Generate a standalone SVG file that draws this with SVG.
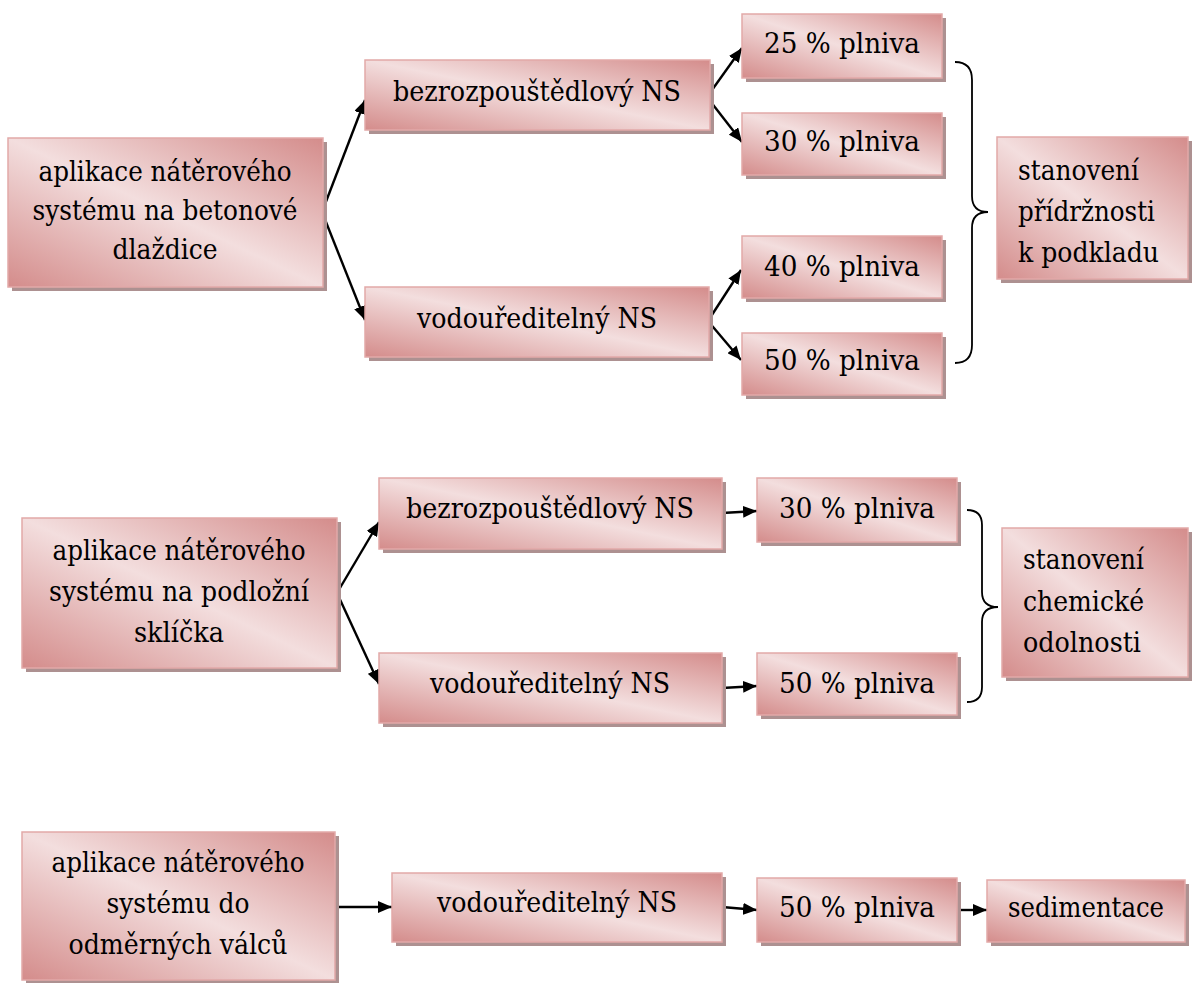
<svg xmlns="http://www.w3.org/2000/svg" width="1192" height="983" viewBox="0 0 1192 983">
<defs>
<linearGradient id="g" x1="1" y1="0" x2="0" y2="1">
<stop offset="0" stop-color="#d48c8b"/>
<stop offset="0.5" stop-color="#f3dede"/>
<stop offset="1" stop-color="#d48c8b"/>
</linearGradient>
<marker id="ah" viewBox="0 0 14 12" refX="14" refY="6" markerWidth="14" markerHeight="12" markerUnits="userSpaceOnUse" orient="auto">
<path d="M0,0 L14,6 L0,12 z" fill="#000"/>
</marker>
<style>
.sh{fill:#ad9191}
.bx{fill:url(#g);stroke:#e2a9a8;stroke-width:1.5}
.t{text-anchor:middle}
.tl{text-anchor:start}
</style>
</defs>
<rect width="1192" height="983" fill="#fff"/>
<g id="connectors" stroke="#000" fill="none">
<g stroke-width="2.4" marker-end="url(#ah)">
<path d="M322,212 L365,100"/>
<path d="M322,212 L365,320"/>
<path d="M707,97 L742,48"/>
<path d="M707,97 L742,142"/>
<path d="M708,321 L741,270"/>
<path d="M708,321 L741,360"/>
<path d="M337,593 L379,522"/>
<path d="M337,593 L379,684"/>
<path d="M722,513 L757,511"/>
<path d="M722,688 L757,686"/>
<path d="M335,907 L392,907"/>
<path d="M722,907 L757,910"/>
<path d="M956,910 L987,910"/>
</g>
<path stroke-width="1.8" d="M955,62 Q972,62 972,80 L972,196 Q972,212 988,212 Q972,212 972,228 L972,345 Q972,363 955,363"/>
<path stroke-width="1.8" d="M967,510 Q982,510 982,525 L982,592 Q982,607 998,607 Q982,607 982,622 L982,687 Q982,702 967,702"/>
</g>
<g font-family="DejaVu Serif, serif" font-size="28" fill="#000" lengthAdjust="spacingAndGlyphs">
<g id="a1"><rect class="sh" x="12" y="142" width="315" height="149"/><rect class="bx" x="8" y="138" width="315" height="149"/>
<text class="t" x="165" y="181" textLength="253" lengthAdjust="spacingAndGlyphs">aplikace nátěrového</text><text class="t" x="165" y="220" textLength="265" lengthAdjust="spacingAndGlyphs">systému na betonové</text><text class="t" x="165" y="259" textLength="105" lengthAdjust="spacingAndGlyphs">dlaždice</text></g>
<g id="b1"><rect class="sh" x="369" y="64" width="345" height="70"/><rect class="bx" x="365" y="60" width="345" height="70"/>
<text class="t" x="537" y="101" textLength="288" lengthAdjust="spacingAndGlyphs">bezrozpouštědlový NS</text></g>
<g id="b2"><rect class="sh" x="369" y="291" width="344" height="70"/><rect class="bx" x="365" y="287" width="344" height="70"/>
<text class="t" x="537" y="328" textLength="240" lengthAdjust="spacingAndGlyphs">vodouředitelný NS</text></g>
<g id="c1"><rect class="sh" x="746" y="18" width="200" height="64"/><rect class="bx" x="742" y="14" width="200" height="64"/>
<text class="t" x="842" y="53" textLength="156" lengthAdjust="spacingAndGlyphs">25 % plniva</text></g>
<g id="c2"><rect class="sh" x="746" y="117" width="200" height="62"/><rect class="bx" x="742" y="113" width="200" height="62"/>
<text class="t" x="842" y="151" textLength="156" lengthAdjust="spacingAndGlyphs">30 % plniva</text></g>
<g id="c3"><rect class="sh" x="746" y="240" width="200" height="62"/><rect class="bx" x="742" y="236" width="200" height="62"/>
<text class="t" x="842" y="276" textLength="156" lengthAdjust="spacingAndGlyphs">40 % plniva</text></g>
<g id="c4"><rect class="sh" x="746" y="337" width="200" height="62"/><rect class="bx" x="742" y="333" width="200" height="62"/>
<text class="t" x="842" y="370" textLength="156" lengthAdjust="spacingAndGlyphs">50 % plniva</text></g>
<g id="d1"><rect class="sh" x="1001" y="141" width="191" height="142"/><rect class="bx" x="997" y="137" width="191" height="142"/>
<text class="tl" x="1018" y="180" textLength="121" lengthAdjust="spacingAndGlyphs">stanovení</text><text class="tl" x="1018" y="221" textLength="137" lengthAdjust="spacingAndGlyphs">přídržnosti</text><text class="tl" x="1018" y="262" textLength="141" lengthAdjust="spacingAndGlyphs">k podkladu</text></g>
<g id="a2"><rect class="sh" x="26" y="522" width="315" height="150"/><rect class="bx" x="22" y="518" width="315" height="150"/>
<text class="t" x="179" y="560" textLength="253" lengthAdjust="spacingAndGlyphs">aplikace nátěrového</text><text class="t" x="179" y="601" textLength="260" lengthAdjust="spacingAndGlyphs">systému na podložní</text><text class="t" x="179" y="642" textLength="90" lengthAdjust="spacingAndGlyphs">sklíčka</text></g>
<g id="b3"><rect class="sh" x="383" y="482" width="343" height="71"/><rect class="bx" x="379" y="478" width="343" height="71"/>
<text class="t" x="550" y="518" textLength="288" lengthAdjust="spacingAndGlyphs">bezrozpouštědlový NS</text></g>
<g id="b4"><rect class="sh" x="383" y="657" width="343" height="70"/><rect class="bx" x="379" y="653" width="343" height="70"/>
<text class="t" x="550" y="693" textLength="240" lengthAdjust="spacingAndGlyphs">vodouředitelný NS</text></g>
<g id="c5"><rect class="sh" x="761" y="482" width="200" height="64"/><rect class="bx" x="757" y="478" width="200" height="64"/>
<text class="t" x="857" y="518" textLength="156" lengthAdjust="spacingAndGlyphs">30 % plniva</text></g>
<g id="c6"><rect class="sh" x="761" y="657" width="200" height="62"/><rect class="bx" x="757" y="653" width="200" height="62"/>
<text class="t" x="857" y="693" textLength="156" lengthAdjust="spacingAndGlyphs">50 % plniva</text></g>
<g id="d2"><rect class="sh" x="1006" y="532" width="186" height="149"/><rect class="bx" x="1002" y="528" width="186" height="149"/>
<text class="tl" x="1023" y="569" textLength="121" lengthAdjust="spacingAndGlyphs">stanovení</text><text class="tl" x="1023" y="611" textLength="121" lengthAdjust="spacingAndGlyphs">chemické</text><text class="tl" x="1023" y="652" textLength="118" lengthAdjust="spacingAndGlyphs">odolnosti</text></g>
<g id="a3"><rect class="sh" x="26" y="836" width="313" height="148"/><rect class="bx" x="22" y="832" width="313" height="148"/>
<text class="t" x="178" y="872" textLength="253" lengthAdjust="spacingAndGlyphs">aplikace nátěrového</text><text class="t" x="178" y="913" textLength="143" lengthAdjust="spacingAndGlyphs">systému do</text><text class="t" x="178" y="954" textLength="219" lengthAdjust="spacingAndGlyphs">odměrných válců</text></g>
<g id="b5"><rect class="sh" x="396" y="877" width="330" height="69"/><rect class="bx" x="392" y="873" width="330" height="69"/>
<text class="t" x="557" y="912" textLength="240" lengthAdjust="spacingAndGlyphs">vodouředitelný NS</text></g>
<g id="c7"><rect class="sh" x="761" y="882" width="200" height="64"/><rect class="bx" x="757" y="878" width="200" height="64"/>
<text class="t" x="857" y="917" textLength="156" lengthAdjust="spacingAndGlyphs">50 % plniva</text></g>
<g id="e1"><rect class="sh" x="991" y="884" width="198" height="62"/><rect class="bx" x="987" y="880" width="198" height="62"/>
<text class="t" x="1086" y="917" textLength="156" lengthAdjust="spacingAndGlyphs">sedimentace</text></g>
</g>
</svg>
